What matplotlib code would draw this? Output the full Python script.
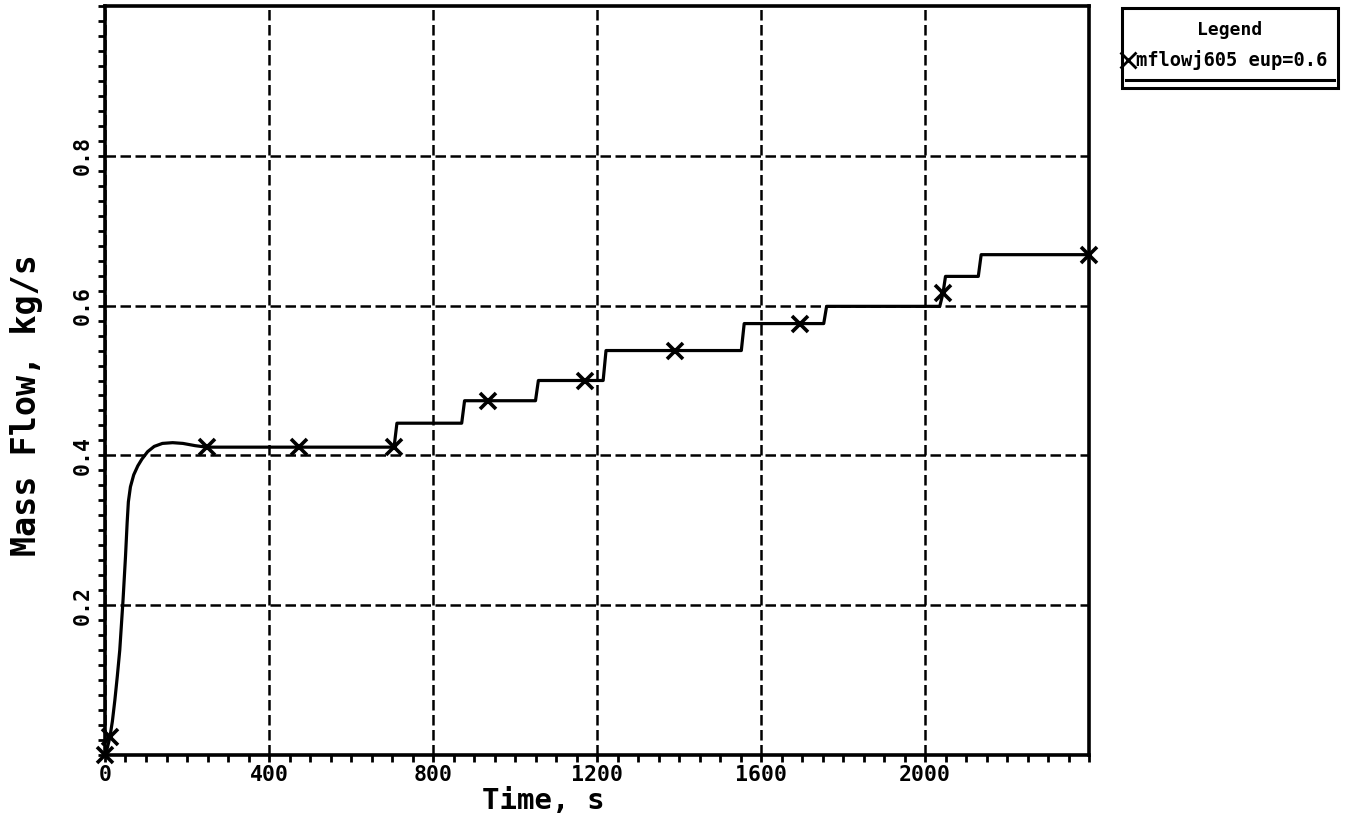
import matplotlib
matplotlib.use("Agg")
import matplotlib.pyplot as plt
from matplotlib.lines import Line2D
from matplotlib.patches import Rectangle
from matplotlib.ticker import MultipleLocator, FixedLocator

# ---- data ----
time_s = [0, 6, 12, 18, 24, 30, 36, 44, 50, 54, 57, 62, 70, 80, 90, 104, 120, 140, 165,
          190, 220, 248, 474, 705,
          712, 870, 877, 1050, 1057, 1215, 1222, 1552, 1559, 1753, 1760,
          2036, 2044, 2050, 2130, 2137, 2400]
mass_flow = [0.0, 0.010, 0.024, 0.045, 0.073, 0.105, 0.140, 0.207, 0.265, 0.310, 0.338,
             0.358, 0.374, 0.386, 0.395, 0.405, 0.412, 0.416, 0.417,
             0.416, 0.413, 0.411, 0.411, 0.411,
             0.443, 0.443, 0.473, 0.473, 0.500, 0.500, 0.540, 0.540, 0.576, 0.576, 0.599,
             0.599, 0.617, 0.639, 0.639, 0.668, 0.668]
marker_t = [0, 12, 248, 474, 705, 935, 1170, 1390, 1696, 2044, 2400]
marker_y = [0.0, 0.024, 0.411, 0.411, 0.411, 0.473, 0.500, 0.540, 0.576, 0.617, 0.668]

x_ticks = [0, 400, 800, 1200, 1600, 2000]
x_tick_labels = ["0", "400", "800", "1200", "1600", "2000"]
y_ticks = [0.2, 0.4, 0.6, 0.8]
y_tick_labels = ["0.2", "0.4", "0.6", "0.8"]
series_label = "mflowj605 eup=0.6"

plt.rcParams['font.family'] = ['DejaVu Sans Mono', 'DejaVu Sans']

fig = plt.figure(figsize=(13.52, 8.23), dpi=100)
ax = fig.add_axes([105/1352, 1-755/823, (1089-105)/1352, (755-6)/823])

ax.plot(time_s, mass_flow, color='black', lw=2.3, zorder=3, clip_on=False,
        solid_joinstyle='round')
ax.plot(marker_t, marker_y, linestyle='none', marker='x', ms=12, mew=2.6,
        color='black', zorder=4, clip_on=False)

ax.set_xlim(0, 2400)
ax.set_ylim(0, 1.0)

ax.xaxis.set_major_locator(FixedLocator(x_ticks))
ax.set_xticklabels(x_tick_labels, fontweight='bold')
ax.yaxis.set_major_locator(FixedLocator(y_ticks))
ax.set_yticklabels(y_tick_labels, rotation=90, va='center', fontweight='bold')
ax.xaxis.set_minor_locator(MultipleLocator(50))
ax.yaxis.set_minor_locator(MultipleLocator(0.02))

ax.tick_params(axis='both', which='both', direction='out', length=5, width=2,
               color='black', labelsize=15.5)
ax.tick_params(axis='x', pad=2)
ax.tick_params(axis='y', pad=4)

ax.grid(True, which='major', color='black', linestyle=(0, (4.2, 1.8)), lw=1.8)
for s in ax.spines.values():
    s.set_linewidth(2.6)
    s.set_color('black')

ax.set_xlabel("Time, s", fontsize=21, fontweight='bold', va='center')
ax.xaxis.set_label_coords(0.445, -0.061)
ax.set_ylabel("Mass Flow, kg/s", fontsize=24, fontweight='bold')
ax.yaxis.set_label_coords(-0.063, 0.467)

# ---- legend box (manual) ----
W, H = 1352, 823
bx0, by0, bx1, by1 = 1122, 8, 1338, 88
fig.patches.append(Rectangle((bx0/W, 1-by1/H), (bx1-bx0)/W, (by1-by0)/H,
                             transform=fig.transFigure, fill=False,
                             edgecolor='black', lw=2.2))
fig.text((bx0+bx1)/2/W, 1-30/H, "Legend", ha='center', va='center',
         fontsize=13, fontweight='bold')
fig.lines.append(Line2D([1128/W], [1-60/H], marker='x', ms=11, mew=2,
                        color='black', transform=fig.transFigure))
fig.text(1136/W, 1-60/H, series_label, ha='left', va='center',
         fontsize=13.5, fontweight='bold')
fig.lines.append(Line2D([1126/W, 1334/W], [1-80/H, 1-80/H], color='black', lw=2.2,
                        transform=fig.transFigure))

fig.savefig("out.png", dpi=100)
